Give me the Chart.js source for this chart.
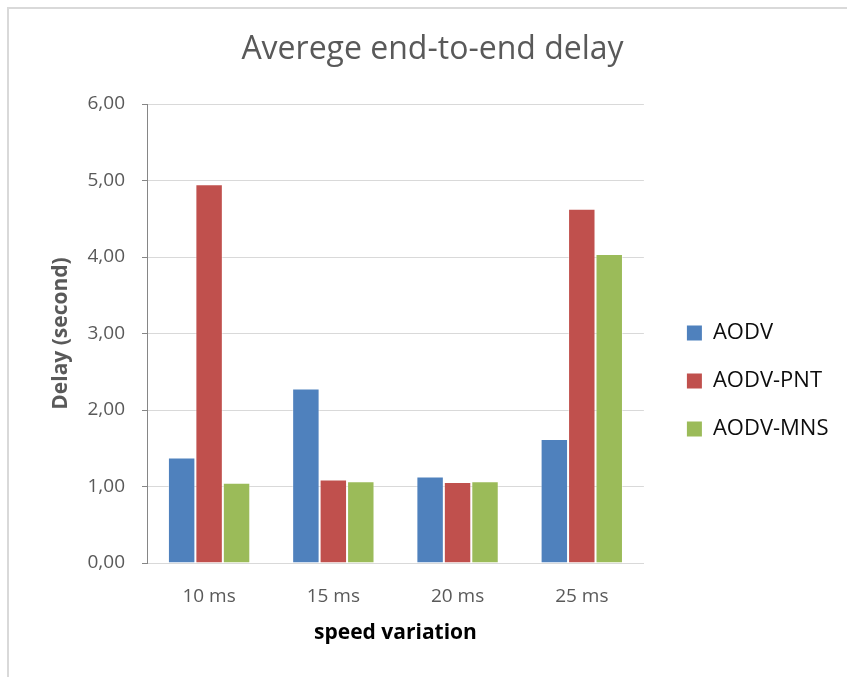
<!DOCTYPE html>
<html>
<head>
<meta charset="utf-8">
<script src="https://cdn.jsdelivr.net/npm/chart.js@4.4.1/dist/chart.umd.min.js"></script>
<style>
  html, body { margin: 0; padding: 0; background: #ffffff; overflow: hidden; }
  #wrap { position: relative; width: 847px; height: 677px; }
  #frame { position: absolute; left: 7px; top: 7px; width: 900px; height: 700px;
           border-top: 2px solid #d9d9d9; border-left: 2px solid #d9d9d9; }
  #c { position: absolute; left: 0; top: 0; }
</style>
</head>
<body>
<div id="wrap">
  <div id="frame"></div>
  <canvas id="c" width="847" height="677"></canvas>
</div>
<script>
// Categories and series (delay in seconds)
const categories = ['10 ms', '15 ms', '20 ms', '25 ms'];
const aodv    = [1.38, 2.28, 1.13, 1.62];
const aodvPnt = [4.95, 1.09, 1.06, 4.63];
const aodvMns = [1.05, 1.07, 1.07, 4.04];
const seriesNames = ['AODV', 'AODV-PNT', 'AODV-MNS'];
const yTickLabels = ['0,00', '1,00', '2,00', '3,00', '4,00', '5,00', '6,00'];

const FONT = "'Open Sans', 'DejaVu Sans', sans-serif";
const GREY_TEXT = '#595959';

const bar = (label, data, color) => ({
  label, data,
  backgroundColor: color,
  borderColor: 'rgba(255,255,255,0.45)',
  borderWidth: 1,
  barPercentage: 1.0,
  categoryPercentage: 0.663
});

// Moves the legend a little away from the plot area and down to the middle
const legendOffset = {
  id: 'legendOffset',
  afterLayout(chart) {
    const lg = chart.legend;
    if (!lg) return;
    lg.left += 17; lg.right += 17;
    lg.top += 54; lg.bottom += 54;
  }
};

new Chart(document.getElementById('c'), {
  type: 'bar',
  data: {
    labels: categories,
    datasets: [
      bar(seriesNames[0], aodv, '#4f81bd'),
      bar(seriesNames[1], aodvPnt, '#c0504d'),
      bar(seriesNames[2], aodvMns, '#9bbb59')
    ]
  },
  plugins: [legendOffset],
  options: {
    responsive: false,
    animation: false,
    devicePixelRatio: 1,
    layout: { padding: { left: 43.5, right: 25.5, top: 0, bottom: 23 } },
    plugins: {
      tooltip: { enabled: false },
      title: {
        display: true,
        text: 'Averege end-to-end delay',
        color: GREY_TEXT,
        font: { family: FONT, size: 32, weight: 'normal' },
        padding: { top: 31, bottom: 34.6 }
      },
      legend: {
        position: 'right',
        align: 'center',
        labels: {
          color: '#0d0d0d',
          font: { family: FONT, size: 22 },
          boxWidth: 15,
          boxHeight: 15,
          padding: 26,
          generateLabels: (chart) =>
            Chart.defaults.plugins.legend.labels.generateLabels(chart)
              .map(item => Object.assign(item, { lineWidth: 0 }))
        }
      }
    },
    scales: {
      x: {
        grid: { drawOnChartArea: false, drawTicks: false },
        border: { display: true, color: '#d9d9d9', width: 1 },
        ticks: { color: GREY_TEXT, font: { family: FONT, size: 19 }, padding: 22 },
        title: {
          display: true,
          text: 'speed variation',
          color: '#000000',
          font: { family: FONT, size: 21, weight: 'bold' },
          padding: { top: 0, bottom: 8 }
        },
        afterFit: (s) => { s.height = 91; }
      },
      y: {
        min: 0,
        max: 6,
        grid: { color: '#d9d9d9', tickColor: '#868686', tickLength: 5, lineWidth: 1 },
        border: { display: true, color: '#868686', width: 1 },
        ticks: {
          stepSize: 1,
          color: GREY_TEXT,
          font: { family: FONT, size: 19 },
          padding: 17,
          callback: (v, i) => yTickLabels[i]
        },
        title: {
          display: true,
          text: 'Delay (second)',
          color: GREY_TEXT,
          font: { family: FONT, size: 21, weight: 'bold' },
          padding: { top: 5, bottom: 0 }
        },
        afterFit: (s) => { s.width = 103.5; }
      }
    }
  }
});
</script>
</body>
</html>
